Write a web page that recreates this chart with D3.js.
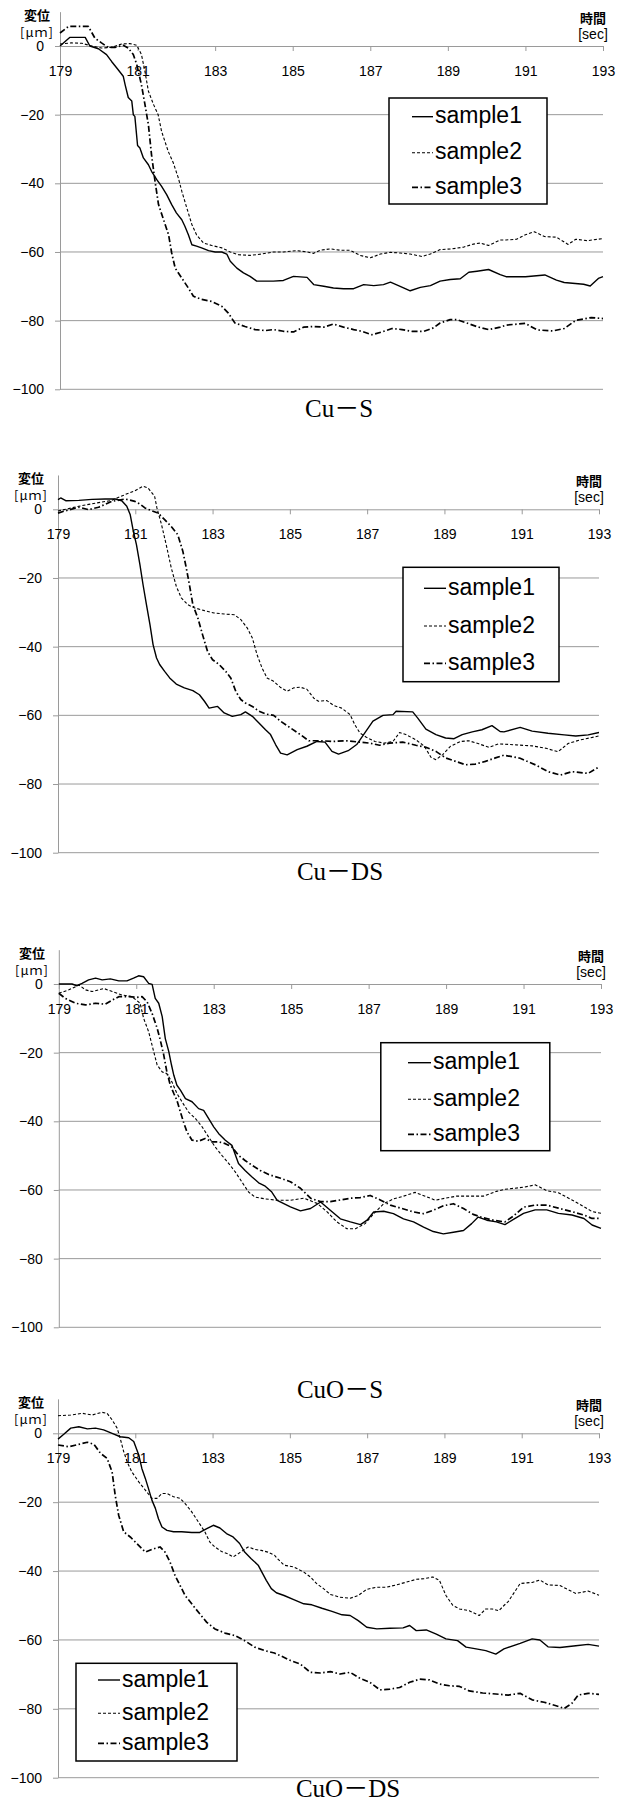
<!DOCTYPE html>
<html>
<head>
<meta charset="utf-8">
<script src="https://cdn.jsdelivr.net/npm/d3@7"></script>
<style>
  body { margin: 0; background: #fff; }
  .tick text { font-family: "Liberation Sans", Arial, sans-serif; font-size: 14px; fill: #000; }
</style>
</head>
<body>
<svg id="chart" width="627" height="1804"></svg>
<script>
// Set dimensions
var width = 627,
    height = 1804;

// Ticks and labels
var xTicks = [179, 181, 183, 185, 187, 189, 191, 193];
var yTicks = [0, -20, -40, -60, -80, -100];
var seriesNames = ["sample1", "sample2", "sample3"];
var captions = ["Cu－S", "Cu－DS", "CuO－S", "CuO－DS"];

// Cu-S  [time sec, displacement um]
var cuS_1 = [[179,0],[179.25,2.5],[179.65,2.5],[179.77,0],[179.99,-0.8],[180.2,-2.5],[180.33,-4.5],[180.5,-6.9],[180.63,-8.8],[180.68,-11.3],[180.76,-15],[180.85,-16],[180.89,-20],[180.93,-20.5],[181.0,-29],[181.06,-29.7],[181.15,-32.6],[181.28,-34.6],[181.36,-36.5],[181.5,-39],[181.62,-40.9],[181.75,-43.3],[181.88,-46.2],[182.0,-48.6],[182.14,-50.6],[182.22,-52.5],[182.31,-55],[182.4,-57.9],[182.52,-58.3],[182.65,-58.8],[182.83,-59.6],[183.0,-60],[183.17,-60],[183.3,-60.6],[183.39,-62.7],[183.56,-64.7],[183.73,-66.1],[183.9,-67.1],[184.07,-68.5],[184.5,-68.5],[184.76,-68.3],[185.02,-67.1],[185.37,-67.4],[185.54,-69.5],[185.8,-70],[186.05,-70.5],[186.31,-70.7],[186.57,-70.7],[186.83,-69.5],[187.09,-69.8],[187.34,-69.5],[187.52,-68.8],[187.77,-70],[188.03,-71.3],[188.29,-70.3],[188.55,-69.8],[188.8,-68.5],[189.06,-68],[189.32,-67.8],[189.54,-65.9],[189.75,-65.6],[190.05,-65.1],[190.35,-66.6],[190.5,-67.2],[191.0,-67.2],[191.5,-66.7],[191.8,-68.2],[192.0,-68.9],[192.5,-69.4],[192.67,-69.9],[192.88,-67.7],[193,-67.2]];
var cuS_2 = [[179,0.6],[179.3,0.9],[179.56,0.8],[179.82,0],[180.07,-0.6],[180.33,-0.4],[180.59,0.6],[180.8,0.7],[180.98,0.2],[181.1,-2.5],[181.19,-7.4],[181.28,-13.2],[181.41,-17],[181.53,-20],[181.62,-24.9],[181.79,-30.7],[181.92,-34],[182.05,-38.4],[182.14,-42.3],[182.27,-47.2],[182.4,-52],[182.52,-55],[182.7,-57.4],[182.91,-58.1],[183.17,-58.8],[183.39,-60],[183.6,-60.8],[183.9,-61],[184.2,-60.6],[184.5,-60],[184.76,-60],[185.11,-59.6],[185.37,-60],[185.54,-60.4],[185.71,-59.5],[185.97,-59.1],[186.23,-59.5],[186.48,-59.5],[186.74,-61],[187.0,-61.7],[187.26,-60.6],[187.52,-60.1],[187.77,-60.3],[188.03,-60.6],[188.33,-61.3],[188.55,-60.6],[188.8,-59.3],[189.1,-59.1],[189.4,-58.6],[189.66,-57.7],[189.83,-57.4],[190.05,-58.1],[190.35,-56.5],[190.5,-56.5],[190.77,-56.3],[191.0,-55],[191.23,-54.1],[191.49,-55.5],[191.8,-55.7],[192.1,-57.8],[192.3,-56.3],[192.6,-56.7],[193,-56.1]];
var cuS_3 = [[179,3.8],[179.22,5.7],[179.73,5.7],[179.9,2.3],[180.07,0.9],[180.24,-0.4],[180.42,-0.4],[180.63,0.2],[180.76,-0.6],[180.89,-2.5],[180.98,-5.4],[181.1,-11.3],[181.19,-17],[181.28,-23],[181.36,-31.7],[181.45,-39.4],[181.54,-46.2],[181.67,-50.6],[181.8,-55],[181.88,-60.3],[181.97,-64.7],[182.14,-67.6],[182.31,-70.5],[182.44,-72.9],[182.65,-73.8],[182.91,-74.4],[183.17,-75.8],[183.34,-77.8],[183.51,-80.7],[183.77,-81.7],[184.03,-82.6],[184.29,-82.9],[184.5,-82.6],[184.76,-83.1],[185.02,-83.3],[185.28,-81.9],[185.54,-81.7],[185.8,-81.9],[186.05,-81],[186.31,-81.9],[186.57,-82.6],[186.78,-83.1],[187.04,-84.1],[187.3,-83.3],[187.56,-82.3],[187.82,-82.6],[188.07,-83.1],[188.38,-83.1],[188.63,-82.1],[188.8,-80.7],[189.06,-79.7],[189.23,-79.7],[189.49,-80.7],[189.79,-81.9],[190.05,-82.6],[190.35,-81.9],[190.5,-81.3],[191.0,-80.8],[191.3,-82.7],[191.7,-83],[192.0,-82.3],[192.3,-79.9],[192.7,-79.1],[193,-79.4]];

// Cu-DS
var cuDS_1 = [[179,2.8],[179.07,3.3],[179.2,2.5],[179.54,2.6],[179.88,2.9],[180.22,3],[180.48,3],[180.65,2.5],[180.78,0.9],[180.87,-1.6],[180.95,-6.4],[181.03,-10.3],[181.12,-16.1],[181.2,-21.9],[181.29,-27.8],[181.38,-33.6],[181.46,-39.4],[181.55,-43.3],[181.63,-45.2],[181.76,-47.2],[181.89,-49.1],[182.06,-50.9],[182.27,-52],[182.49,-52.8],[182.66,-54],[182.79,-55.9],[182.91,-57.9],[183.13,-57.4],[183.3,-59.3],[183.51,-60.3],[183.73,-59.8],[183.85,-59],[184.03,-60.3],[184.2,-62.2],[184.37,-64.2],[184.5,-65.6],[184.63,-68.5],[184.76,-71],[184.93,-71.5],[185.19,-70],[185.44,-69],[185.7,-67.6],[185.91,-67.8],[186.09,-70.5],[186.26,-71.3],[186.51,-70.3],[186.73,-68.5],[186.94,-65.1],[187.15,-61.7],[187.41,-60],[187.67,-59.8],[187.75,-58.8],[188.18,-59],[188.31,-60.8],[188.52,-64],[188.78,-65.6],[189.03,-66.6],[189.25,-66.8],[189.46,-65.6],[189.72,-64.8],[189.97,-64.2],[190.23,-63],[190.44,-64.7],[190.54,-64.8],[190.96,-63.5],[191.27,-64.6],[191.68,-65.2],[192.1,-65.7],[192.4,-66],[192.72,-65.7],[193,-65]];
var cuDS_2 = [[179,-0.5],[179.54,0.9],[179.97,1.8],[180.39,2.6],[180.74,4.3],[180.99,5.4],[181.2,6.7],[181.33,6.2],[181.5,3.8],[181.56,0.4],[181.68,-4.5],[181.8,-10.3],[181.93,-17],[182.06,-22.4],[182.19,-25.8],[182.36,-27.8],[182.53,-28.7],[182.79,-29.5],[183.04,-30.2],[183.3,-30.5],[183.56,-30.7],[183.73,-32.1],[183.9,-34.6],[184.03,-37.5],[184.15,-42.3],[184.28,-46.2],[184.41,-49.1],[184.58,-50.1],[184.75,-51.8],[184.93,-53],[185.1,-52],[185.27,-51.8],[185.44,-52.4],[185.62,-55],[185.74,-55.9],[185.96,-55.7],[186.13,-57.1],[186.34,-57.9],[186.56,-59.8],[186.68,-62.7],[186.81,-65.1],[186.98,-66.4],[187.2,-67.6],[187.45,-68.1],[187.67,-67.6],[187.84,-65],[188.0,-65.6],[188.26,-67.1],[188.48,-69],[188.65,-72.2],[188.78,-72.9],[188.95,-71.5],[189.16,-69],[189.42,-67.6],[189.63,-67.4],[189.89,-68.3],[190.15,-69.3],[190.4,-68.3],[190.85,-68.6],[191.27,-68.9],[191.63,-69.6],[191.94,-70.6],[192.2,-68.2],[192.5,-67.2],[193,-66]];
var cuDS_3 = [[179,-1.1],[179.2,-0.4],[179.54,0.6],[179.79,-0.1],[180.05,0.6],[180.39,2.3],[180.74,3],[180.99,2.3],[181.11,1.6],[181.25,0.4],[181.42,-0.4],[181.59,-1.1],[181.76,-3],[181.93,-5],[182.1,-7.4],[182.23,-12.2],[182.32,-17.1],[182.4,-21.9],[182.49,-27.8],[182.62,-31.7],[182.74,-36.5],[182.87,-41.4],[183.0,-43.8],[183.17,-45.2],[183.34,-47.2],[183.47,-49.1],[183.6,-53],[183.73,-55.4],[183.85,-56.4],[184.03,-57.4],[184.2,-58.8],[184.37,-59.6],[184.58,-60],[184.76,-61.7],[185.02,-63.7],[185.27,-65.6],[185.49,-67.4],[185.79,-67.4],[186.13,-67.6],[186.47,-67.4],[186.81,-67.8],[187.07,-68.1],[187.32,-68.7],[187.58,-68.1],[187.92,-67.8],[188.26,-68.7],[188.52,-69.3],[188.78,-70.5],[189.03,-72.4],[189.29,-73.4],[189.55,-74.4],[189.8,-74.2],[190.06,-73.4],[190.32,-72.4],[190.54,-71.6],[190.96,-72.5],[191.37,-74.5],[191.68,-76.4],[192.0,-77.4],[192.3,-76.4],[192.72,-76.9],[193,-75]];

// CuO-S
var cuoS_1 = [[179,0],[179.34,0],[179.47,-0.5],[179.6,0.2],[179.77,1.2],[179.95,1.7],[180.12,1.2],[180.33,1.5],[180.55,0.9],[180.76,0.9],[180.93,1.7],[181.06,2.4],[181.19,2.1],[181.32,0.2],[181.41,-0.1],[181.49,-4.2],[181.58,-5.6],[181.67,-9.5],[181.75,-15.9],[181.84,-19.7],[181.91,-23.6],[181.97,-26.6],[182.05,-29.5],[182.14,-30.9],[182.27,-33.4],[182.44,-34.3],[182.61,-36.3],[182.74,-36.8],[182.87,-39.2],[183.0,-41.6],[183.13,-43.6],[183.3,-45.5],[183.47,-47],[183.56,-49.8],[183.64,-52.3],[183.81,-54.3],[183.99,-56.2],[184.16,-57.9],[184.33,-58.9],[184.5,-60.6],[184.64,-63],[184.98,-64.9],[185.24,-66.1],[185.5,-65.4],[185.76,-63.5],[186.01,-65.9],[186.27,-68.4],[186.53,-69.3],[186.79,-70.1],[186.96,-68.8],[187.13,-66.4],[187.39,-66.2],[187.64,-66.9],[187.9,-68.4],[188.16,-69.3],[188.42,-70.8],[188.67,-72.1],[188.93,-72.8],[189.19,-72.3],[189.45,-71.8],[189.66,-69.8],[189.83,-67.9],[190.05,-68.8],[190.3,-69.3],[190.52,-70.1],[190.75,-68.5],[191.0,-66.8],[191.3,-65.8],[191.6,-65.8],[191.9,-66.8],[192.25,-67.3],[192.56,-68.3],[192.77,-70.2],[193,-71.2]];
var cuoS_2 = [[179,-2.7],[179.26,-1.7],[179.52,-0.3],[179.69,-1.7],[179.86,-2.2],[180.16,-1.3],[180.38,-2.2],[180.63,-3.2],[180.89,-3.7],[181.1,-5.6],[181.19,-10],[181.32,-13.9],[181.45,-19.7],[181.54,-23.6],[181.67,-25.6],[181.79,-26.1],[181.92,-28.5],[182.05,-31.9],[182.18,-34.3],[182.35,-37.3],[182.53,-39.2],[182.7,-41.6],[182.87,-44.6],[183.04,-47.5],[183.21,-49.9],[183.39,-52.3],[183.56,-54.8],[183.73,-57.7],[183.9,-60.6],[184.07,-62.1],[184.33,-62.6],[184.64,-63],[184.98,-63],[185.33,-62.4],[185.67,-63.9],[185.93,-66.4],[186.18,-69.3],[186.44,-71.3],[186.66,-71.3],[186.91,-69.8],[187.13,-66.9],[187.39,-64],[187.64,-62.6],[187.9,-61.8],[188.2,-60.7],[188.46,-61.8],[188.72,-63],[188.97,-62.4],[189.27,-61.8],[189.62,-61.8],[189.96,-61.8],[190.3,-60.4],[190.52,-59.8],[191.0,-59.2],[191.3,-58.5],[191.6,-60.2],[191.9,-60.8],[192.25,-62.9],[192.56,-64.9],[192.77,-66.3],[193,-66.8]];
var cuoS_3 = [[179,-2.7],[179.17,-4.2],[179.43,-5.6],[179.69,-6.1],[179.95,-5.6],[180.2,-5.9],[180.38,-4.7],[180.55,-3.7],[180.81,-3.7],[181.02,-3.9],[181.15,-3.7],[181.28,-5.2],[181.41,-8.6],[181.54,-12.9],[181.62,-16.3],[181.71,-20.7],[181.79,-25.6],[181.88,-29.5],[181.97,-31.9],[182.05,-33.9],[182.14,-37.3],[182.22,-40.2],[182.31,-43.1],[182.44,-45.5],[182.61,-45.8],[182.78,-45],[182.96,-46],[183.13,-46],[183.3,-46.5],[183.47,-47.5],[183.64,-49.9],[183.81,-51.4],[183.99,-52.8],[184.2,-54.3],[184.42,-55.5],[184.73,-56.6],[184.98,-57.6],[185.24,-59.5],[185.5,-62.4],[185.76,-63.4],[186.01,-63.4],[186.27,-62.9],[186.53,-62.4],[186.79,-62.2],[187.04,-61.6],[187.3,-62.9],[187.56,-64.4],[187.86,-65.4],[188.16,-66.4],[188.42,-66.9],[188.67,-65.9],[188.93,-64.6],[189.19,-64],[189.45,-65.4],[189.7,-67.1],[189.96,-68.1],[190.22,-68.8],[190.52,-69.3],[190.75,-67.5],[191.0,-65],[191.3,-64.4],[191.6,-64.4],[191.9,-65.3],[192.25,-66.3],[192.56,-67.3],[192.77,-68.3],[193,-68.3]];

// CuO-DS
var cuoDS_1 = [[179,-1.7],[179.15,-0.3],[179.33,1.5],[179.54,1.9],[179.76,1.3],[179.97,1.5],[180.18,1],[180.4,0],[180.61,-1],[180.83,-1.3],[180.96,-2.4],[181.09,-6.3],[181.17,-10.2],[181.26,-13.1],[181.34,-16],[181.43,-19.4],[181.52,-21.8],[181.6,-24.8],[181.69,-27.2],[181.82,-28.2],[181.99,-28.6],[182.2,-28.6],[182.46,-28.8],[182.67,-28.8],[182.85,-27.7],[183.02,-26.7],[183.19,-27.5],[183.36,-29.1],[183.53,-30.1],[183.7,-32],[183.83,-34.5],[184.0,-36.4],[184.18,-38.3],[184.3,-40.8],[184.39,-42.7],[184.52,-45.1],[184.65,-46.3],[184.85,-47.1],[185.1,-48.3],[185.36,-49.5],[185.57,-49.8],[185.83,-50.8],[186.09,-51.7],[186.35,-52.7],[186.56,-52.9],[186.77,-54.4],[186.99,-56.3],[187.25,-56.8],[187.59,-56.6],[187.93,-56.5],[188.1,-55.8],[188.27,-57.3],[188.53,-57.1],[188.79,-58.3],[189.04,-59.7],[189.34,-60.2],[189.56,-62.1],[189.82,-62.6],[190.07,-63.1],[190.33,-64.1],[190.54,-62.6],[190.96,-61],[191.27,-59.7],[191.47,-60],[191.68,-62],[191.99,-62.2],[192.4,-61.7],[192.72,-61.3],[193,-61.8]];
var cuoDS_2 = [[179,5.1],[179.33,5.3],[179.63,5.8],[179.88,5.3],[180.14,6.1],[180.27,5.8],[180.4,3.9],[180.53,1.5],[180.61,-1.5],[180.7,-5.3],[180.79,-8.3],[180.91,-11.2],[181.09,-14.1],[181.26,-16.5],[181.43,-18.9],[181.56,-18.9],[181.69,-17.5],[181.82,-17.5],[181.99,-18.4],[182.16,-18.9],[182.29,-20.4],[182.46,-22.8],[182.63,-25.7],[182.8,-28.6],[182.93,-31.6],[183.06,-33],[183.23,-34.3],[183.4,-35],[183.53,-35.9],[183.66,-35],[183.79,-34],[183.92,-33],[184.09,-33.7],[184.26,-34],[184.43,-34.5],[184.6,-35.4],[184.68,-36.4],[184.85,-38.3],[185.1,-38.8],[185.36,-40.3],[185.53,-41.7],[185.7,-43.7],[185.87,-45.1],[186.05,-46.8],[186.3,-47.6],[186.56,-47.9],[186.77,-47.1],[186.99,-45.3],[187.25,-44.7],[187.5,-44.7],[187.76,-44],[188.02,-43.2],[188.27,-42.4],[188.49,-42.2],[188.7,-41.7],[188.87,-42.7],[189.04,-47.1],[189.22,-50],[189.39,-51],[189.64,-51.5],[189.9,-52.9],[190.07,-51],[190.24,-51],[190.41,-51.5],[190.54,-50],[190.65,-48.9],[190.96,-43.6],[191.27,-43.3],[191.47,-42.6],[191.68,-44],[191.99,-44.2],[192.4,-46.5],[192.72,-45.8],[193,-47]];
var cuoDS_3 = [[179,-3.4],[179.28,-3.9],[179.54,-3.2],[179.76,-2.6],[179.93,-3.2],[180.1,-5.8],[180.27,-7.3],[180.4,-11.2],[180.48,-18],[180.57,-23.8],[180.7,-28.6],[180.87,-30.1],[181.04,-32],[181.26,-34.5],[181.43,-33.7],[181.64,-33],[181.77,-34.5],[181.9,-37.4],[182.03,-41.3],[182.16,-44.2],[182.29,-47.1],[182.46,-49.5],[182.63,-51.9],[182.85,-54.9],[183.06,-56.8],[183.32,-58],[183.57,-58.7],[183.83,-60.2],[184.09,-62.1],[184.35,-63.1],[184.6,-63.8],[184.76,-64.6],[185.02,-66],[185.27,-67],[185.53,-69.4],[185.79,-69.6],[186.05,-69.2],[186.3,-69.9],[186.56,-69.4],[186.82,-71.2],[187.07,-72.3],[187.33,-74.5],[187.59,-74.3],[187.84,-73.8],[188.1,-72.3],[188.36,-71.4],[188.61,-71.6],[188.87,-72.8],[189.13,-73.3],[189.39,-73.5],[189.64,-74.8],[189.99,-75.4],[190.33,-75.7],[190.65,-76],[190.96,-75.5],[191.27,-77.4],[191.58,-78.1],[191.89,-79.1],[192.1,-79.9],[192.3,-78.4],[192.46,-76],[192.72,-75.5],[193,-75.8]];

// Line styles for sample1..3
var dashes = [null, "3,2", "6,2.5,1.5,2.5"];
var strokeW = [1.4, 1.1, 1.7];

// Panel layout (pixel frame of each plot)
var panels = [
    { data: [cuS_1, cuS_2, cuS_3], left: 60, right: 603, zero: 46, bottom: 389.3,
      capX: 339, capY: 417, labX: 37,
      leg: { x: 389, y: 98, w: 158, h: 106, rows: [18.7, 54.7, 89.3], lx: 412, tx: 435 } },
    { data: [cuDS_1, cuDS_2, cuDS_3], left: 58, right: 599, zero: 509.3, bottom: 852.7,
      capX: 340, capY: 880, labX: 31,
      leg: { x: 403, y: 567.3, w: 156, h: 114.4, rows: [21, 58.7, 96], lx: 424, tx: 448 } },
    { data: [cuoS_1, cuoS_2, cuoS_3], left: 58.8, right: 601, zero: 984, bottom: 1327.3,
      capX: 340, capY: 1397.7, labX: 32,
      leg: { x: 380.8, y: 1042.7, w: 169, h: 108, rows: [20, 56.6, 91.6], lx: 408, tx: 433 } },
    { data: [cuoDS_1, cuoDS_2, cuoDS_3], left: 58, right: 599, zero: 1433.3, bottom: 1777.7,
      capX: 348, capY: 1797, labX: 31,
      leg: { x: 76, y: 1663.3, w: 161, h: 97.7, rows: [16.7, 50, 80], lx: 98, tx: 122 } }
];

var svg = d3.select("#chart");

panels.forEach(function(p, i) {
    var pxPerUnit = (p.bottom - p.zero) / 100;

    var x = d3.scaleLinear()
        .domain([179, 193])
        .range([p.left, p.right]);

    var y = d3.scaleLinear()
        .domain([10, -100])
        .range([p.zero - 10 * pxPerUnit, p.bottom]);

    var g = svg.append("g").attr("class", "panel");

    // horizontal gridlines
    g.append("g")
        .selectAll("line")
        .data(yTicks.slice(1))
        .enter()
        .append("line")
        .attr("x1", p.left)
        .attr("x2", p.right)
        .attr("y1", function(d) { return y(d); })
        .attr("y2", function(d) { return y(d); })
        .attr("stroke", "#9a9a9a")
        .attr("stroke-width", 1);

    // y axis
    var yAxis = g.append("g")
        .attr("transform", "translate(" + p.left + ",0)")
        .call(d3.axisLeft(y).tickValues(yTicks).tickSize(5).tickSizeOuter(0).tickPadding(11));

    // x axis on the zero line
    var xAxis = g.append("g")
        .attr("transform", "translate(0," + y(0) + ")")
        .call(d3.axisBottom(x).tickValues(xTicks).tickSize(5).tickSizeOuter(0).tickPadding(15));

    [yAxis, xAxis].forEach(function(a) {
        a.select(".domain").attr("stroke", "#9a9a9a");
        a.selectAll(".tick line").attr("stroke", "#9a9a9a");
    });

    // axis titles
    var jp = "'Noto Sans CJK JP', sans-serif";
    g.append("text").attr("x", p.labX).attr("y", p.zero - 32)
        .attr("text-anchor", "middle").attr("dominant-baseline", "central")
        .style("font-family", jp).style("font-weight", "bold").style("font-size", "13px")
        .text("変位");
    g.append("text").attr("x", p.labX).attr("y", p.zero - 15)
        .attr("text-anchor", "middle").attr("dominant-baseline", "central")
        .style("font-family", jp).style("font-size", "13px").style("letter-spacing", "1px")
        .text("[μｍ]");
    g.append("text").attr("x", p.right - 10).attr("y", p.zero - 29)
        .attr("text-anchor", "middle").attr("dominant-baseline", "central")
        .style("font-family", jp).style("font-weight", "bold").style("font-size", "13px")
        .text("時間");
    g.append("text").attr("x", p.right - 10).attr("y", p.zero - 12.5)
        .attr("text-anchor", "middle").attr("dominant-baseline", "central")
        .style("font-family", "'Liberation Sans', Arial, sans-serif").style("font-size", "14px")
        .text("[sec]");

    // lines
    var line = d3.line()
        .x(function(d) { return x(d[0]); })
        .y(function(d) { return y(d[1]); });

    g.append("g")
        .selectAll("path")
        .data(p.data)
        .enter()
        .append("path")
        .attr("d", line)
        .attr("fill", "none")
        .attr("stroke", "#000")
        .attr("stroke-width", function(d, k) { return strokeW[k]; })
        .attr("stroke-dasharray", function(d, k) { return dashes[k]; })
        .attr("stroke-linejoin", "round");

    // legend
    var leg = g.append("g").attr("transform", "translate(" + p.leg.x + "," + p.leg.y + ")");
    leg.append("rect")
        .attr("width", p.leg.w)
        .attr("height", p.leg.h)
        .attr("fill", "#fff")
        .attr("stroke", "#000")
        .attr("stroke-width", 1.5);

    var rows = leg.selectAll("g.row")
        .data(seriesNames)
        .enter()
        .append("g")
        .attr("class", "row")
        .attr("transform", function(d, k) { return "translate(0," + p.leg.rows[k] + ")"; });

    rows.append("line")
        .attr("x1", p.leg.lx - p.leg.x)
        .attr("x2", p.leg.tx - p.leg.x - 2)
        .attr("y1", 0)
        .attr("y2", 0)
        .attr("stroke", "#000")
        .attr("stroke-width", function(d, k) { return strokeW[k]; })
        .attr("stroke-dasharray", function(d, k) { return dashes[k]; });

    rows.append("text")
        .attr("x", p.leg.tx - p.leg.x)
        .attr("y", 6.5)
        .style("font-family", "'Liberation Sans', Arial, sans-serif")
        .style("font-size", "23px")
        .text(function(d) { return d; });

    // caption
    g.append("text")
        .attr("x", p.capX)
        .attr("y", p.capY)
        .attr("text-anchor", "middle")
        .style("font-family", "'Liberation Serif', 'Noto Sans CJK JP', serif")
        .style("font-size", "25px")
        .text(captions[i]);
});
</script>
</body>
</html>
